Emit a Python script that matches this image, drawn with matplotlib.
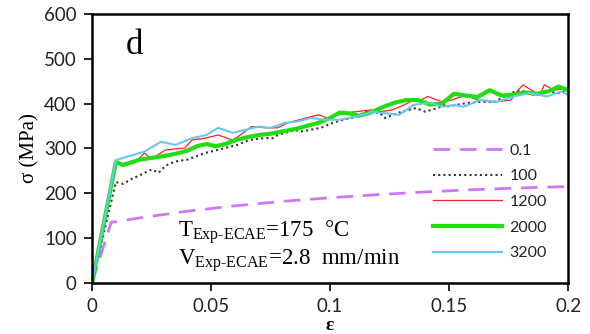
import matplotlib
matplotlib.use("Agg")
import matplotlib.pyplot as plt

plt.rcParams['mathtext.fontset'] = 'custom'
plt.rcParams['mathtext.rm'] = 'Liberation Serif'
plt.rcParams['mathtext.it'] = 'Liberation Serif:italic'

labels = ["0.1", "100", "1200", "2000", "3200"]

x01 = [0, 0.008, 0.02, 0.04, 0.06, 0.08, 0.1, 0.12, 0.14, 0.16, 0.18, 0.2]
y01 = [0, 135, 145, 160, 172, 182, 190, 197, 203, 208, 212, 215]

x100 = [0, 0.010, 0.013, 0.017, 0.020, 0.023, 0.025, 0.028, 0.031, 0.035, 0.040, 0.045,
        0.0475, 0.053, 0.058, 0.061, 0.066, 0.072, 0.076, 0.078, 0.085, 0.088, 0.096, 0.0975,
        0.101, 0.1055, 0.111, 0.115, 0.121, 0.123, 0.130, 0.136, 0.140, 0.145, 0.148,
        0.1485, 0.157, 0.162, 0.169, 0.176, 0.180, 0.186, 0.191, 0.196, 0.2]
y100 = [0, 225, 221, 233, 240, 248, 253, 246, 262, 271, 275, 285,
        290, 297, 304, 308, 319, 323, 323, 330, 341, 338, 346, 349,
        357, 364, 371, 382, 379, 368, 382, 390, 382, 390, 397,
        393, 401, 404, 404, 424, 430, 419, 427, 424, 430]

x1200 = [0, 0.010, 0.018, 0.022, 0.025, 0.031, 0.039, 0.042, 0.0475, 0.053, 0.059, 0.061,
         0.067, 0.073, 0.078, 0.082, 0.092, 0.095, 0.099, 0.105, 0.111, 0.117, 0.121, 0.126,
         0.131, 0.135, 0.138, 0.141, 0.147, 0.151, 0.157, 0.162, 0.169, 0.176, 0.178, 0.181,
         0.188, 0.190, 0.194, 0.2]
y1200 = [0, 265, 268, 290, 277, 297, 301, 319, 323, 330, 319, 325,
         349, 346, 346, 357, 371, 375, 368, 379, 382, 386, 382, 386,
         397, 408, 408, 416, 404, 408, 419, 408, 404, 408, 424, 442,
         419, 442, 430, 435]

x2000 = [0, 0.010, 0.013, 0.020, 0.025, 0.030, 0.035, 0.040, 0.044, 0.048, 0.052, 0.056,
         0.060, 0.065, 0.070, 0.075, 0.080, 0.085, 0.090, 0.095, 0.100, 0.104, 0.108, 0.112,
         0.117, 0.122, 0.127, 0.132, 0.137, 0.142, 0.147, 0.152, 0.157, 0.162, 0.167, 0.172,
         0.177, 0.182, 0.187, 0.192, 0.196, 0.2]
y2000 = [0, 270, 263, 275, 279, 283, 288, 295, 305, 310, 305, 310,
         318, 325, 330, 333, 338, 343, 350, 357, 368, 380, 378, 373,
         380, 392, 402, 408, 408, 398, 400, 422, 418, 415, 430, 418,
         420, 425, 422, 428, 438, 430]

x3200 = [0, 0.010, 0.022, 0.029, 0.035, 0.042, 0.048, 0.053, 0.059, 0.064, 0.070, 0.075,
         0.081, 0.086, 0.092, 0.098, 0.104, 0.111, 0.118, 0.123, 0.129, 0.135, 0.140, 0.143,
         0.147, 0.152, 0.156, 0.163, 0.170, 0.177, 0.184, 0.191, 0.197, 0.2]
y3200 = [0, 274, 293, 315, 308, 323, 330, 346, 335, 341, 349, 346,
         357, 360, 368, 364, 364, 371, 382, 379, 375, 397, 401, 401,
         393, 397, 393, 408, 404, 416, 424, 416, 427, 420]

fig = plt.figure(figsize=(5.9, 3.34), dpi=100)
ax = fig.add_axes([0.156, 0.153, 0.807, 0.805])

ax.plot(x01, y01, color='#CC77FF', lw=2.0, ls=(0, (6, 3.5)), label=labels[0])
ax.plot(x100, y100, color='#333333', lw=1.5, ls=(0, (1, 1.5)), label=labels[1])
ax.plot(x1200, y1200, color='#FF2020', lw=0.9, label=labels[2])
ax.plot(x2000, y2000, color='#22DD11', lw=3.0, label=labels[3])
ax.plot(x3200, y3200, color='#66C8F0', lw=1.5, label=labels[4])

ax.set_xlim(0, 0.2)
ax.set_ylim(0, 600)
ax.set_xticks([0, 0.05, 0.1, 0.15, 0.2])
ax.set_xticklabels(["0", "0.05", "0.1", "0.15", "0.2"])
ax.set_yticks([0, 100, 200, 300, 400, 500, 600])

for s in ax.spines.values():
    s.set_linewidth(1.8)
ax.tick_params(direction='out', length=6, width=1.2, labelsize=13.5, pad=5)
for lab in ax.get_xticklabels() + ax.get_yticklabels():
    lab.set_fontfamily('Lato')
    lab.set_color('#222222')

ax.set_ylabel("σ (MPa)", family='Liberation Serif', fontsize=15, labelpad=3)
ax.set_xlabel("ε", family='Liberation Serif', fontsize=14, fontweight='bold', labelpad=1)

ax.text(0.014, 567, "d", family='Liberation Serif', fontsize=25, va='top')
ax.text(0.036, 102, r"$\mathrm{T_{Exp‐ECAE}}$=175  °C", family='Liberation Serif', fontsize=16.5)
ax.text(0.036, 40, r"$\mathrm{V_{Exp‐ECAE}}$=2.8  mm/min", family='Liberation Serif', fontsize=16.5)

leg = ax.legend(loc='center left', bbox_to_anchor=(0.716, 0.301), frameon=False,
                prop={'family': 'Lato', 'size': 11.5}, handlelength=4.3, labelspacing=0.72,
                handletextpad=0.5, borderpad=0, borderaxespad=0)
for t in leg.get_texts():
    t.set_color('#222222')

fig.savefig("out.png", dpi=100)
